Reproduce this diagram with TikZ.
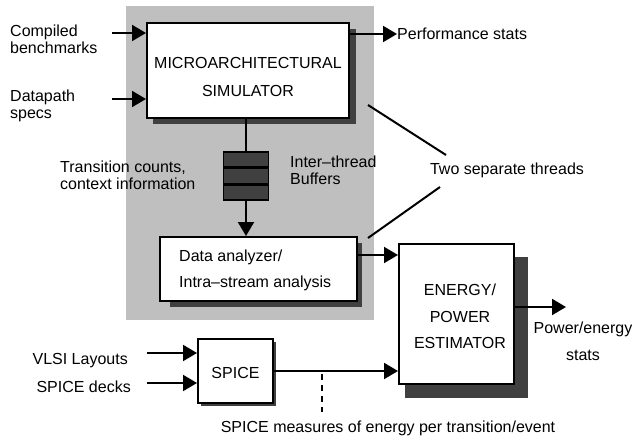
\documentclass[tikz,border=0pt]{standalone}
\usepackage{fontspec}
\setmainfont{Liberation Sans}
\usepackage{tikz}
\usetikzlibrary{arrows.meta, calc, positioning}
\tikzstyle{blk}=[draw, line width=2pt, fill=white, inner sep=0pt]
\tikzstyle{shade}=[fill=black!75]
\tikzstyle{lbl}=[inner sep=0pt, font=\fontsize{16}{17}\selectfont]
\tikzstyle{arr}=[line width=2pt, -{Triangle[length=14pt,width=16pt]}]
\tikzstyle{cell}=[draw, line width=1.5pt, fill=black!75, minimum width=45pt, minimum height=15pt, inner sep=0pt]

\begin{document}
\begin{tikzpicture}[x=1pt, y=-1pt]
\useasboundingbox (0,0) rectangle (632,441);

% Thread region
\fill[black!25] (126,6) rectangle (374,320);

% Simulator
\fill[shade] (153,29) rectangle (356,124);
\node[blk, minimum width=202pt, minimum height=95pt] (micro) at (248,70.5) {};
\node[lbl] (microa) at (248,63) {MICROARCHITECTURAL};
\node[lbl] (microb) at (248,91) {SIMULATOR};

\node[lbl, align=left, anchor=west] (bench) at (10,39.5) {Compiled\\benchmarks};
\node[lbl, align=left, anchor=west] (dspec) at (10,106) {Datapath\\specs};
\coordinate (benchin) at (112,33);
\coordinate (dspecin) at (112,99);
\draw[arr] (benchin) -- (benchin -| micro.west);
\draw[arr] (dspecin) -- (dspecin -| micro.west);

\node[lbl, anchor=west] (perf) at (397,34) {Performance stats};
\draw[arr] (micro.east |- perf) -- (perf.west);

% Buffers
\node[cell] (buf1) at (246,159.5) {};
\node[cell, below=0pt of buf1] (buf2) {};
\node[cell, below=0pt of buf2] (buf3) {};
\node[lbl, align=left, anchor=west] (trans) at (60,175) {Transition counts,\\context information};
\node[lbl, align=left, anchor=west] (ibuf) at (290,170.5) {Inter–thread\\Buffers};
\draw[line width=2pt] (buf1.north |- micro.south) -- (buf1.north);

% Data analyzer
\fill[shade] (170,243) rectangle (362,307);
\node[blk, minimum width=197pt, minimum height=64pt] (dan) at (258.5,269) {};
\node[lbl, anchor=west] (dana) at (179,257) {Data analyzer/};
\node[lbl, anchor=west] (danb) at (179,283) {Intra–stream analysis};
\draw[arr] (buf3.south) -- (buf3.south |- dan.north);

% Energy estimator
\fill[shade] (405,257) rectangle (528,398);
\node[blk, minimum width=115pt, minimum height=140pt] (energy) at (456.5,314) {};
\node[lbl] (ena) at (460,290) {ENERGY/};
\node[lbl] (enb) at (460,317) {POWER};
\node[lbl] (enc) at (460,343) {ESTIMATOR};
\draw[arr] ([yshift=14pt]dan.east) -- ([yshift=14pt]dan.east -| energy.west);

\coordinate (pwout) at (566,307);
\draw[arr] (pwout -| energy.east) -- (pwout);
\node[lbl, align=center] (pwr) at (583,341.5) {Power/energy\\[10pt]stats};

% Threads
\node[lbl] (threads) at (507,170) {Two separate threads};
\coordinate (thra) at (368,105);
\coordinate (thrb) at (446,155);
\coordinate (thrc) at (440,187);
\coordinate (thrd) at (368,238);
\draw[line width=2pt] (thra) -- (thrb);
\draw[line width=2pt] (thrc) -- (thrd);

% SPICE
\fill[shade] (201,342) rectangle (276,406);
\node[blk, minimum width=75pt, minimum height=64pt] (spice) at (235.5,371) {};
\node[lbl] (spicet) at (235.5,373) {SPICE};
\node[lbl, anchor=east] (vlsi) at (128,361) {VLSI Layouts};
\node[lbl, anchor=east] (deck) at (131,387) {SPICE decks};
\coordinate (vlsiin) at (147,353);
\coordinate (deckin) at (147,383);
\draw[arr] (vlsiin) -- (vlsiin -| spice.west);
\draw[arr] (deckin) -- (deckin -| spice.west);
\draw[arr] (spice.east) -- (spice.east -| energy.west);

\node[lbl] (meas) at (388,428) {SPICE measures of energy per transition/event};
\coordinate (dtop) at (322,374);
\coordinate (dbot) at (322,412);
\draw[line width=2pt, dash pattern=on 6pt off 5pt] (dtop) -- (dbot);

\end{tikzpicture}
\end{document}
